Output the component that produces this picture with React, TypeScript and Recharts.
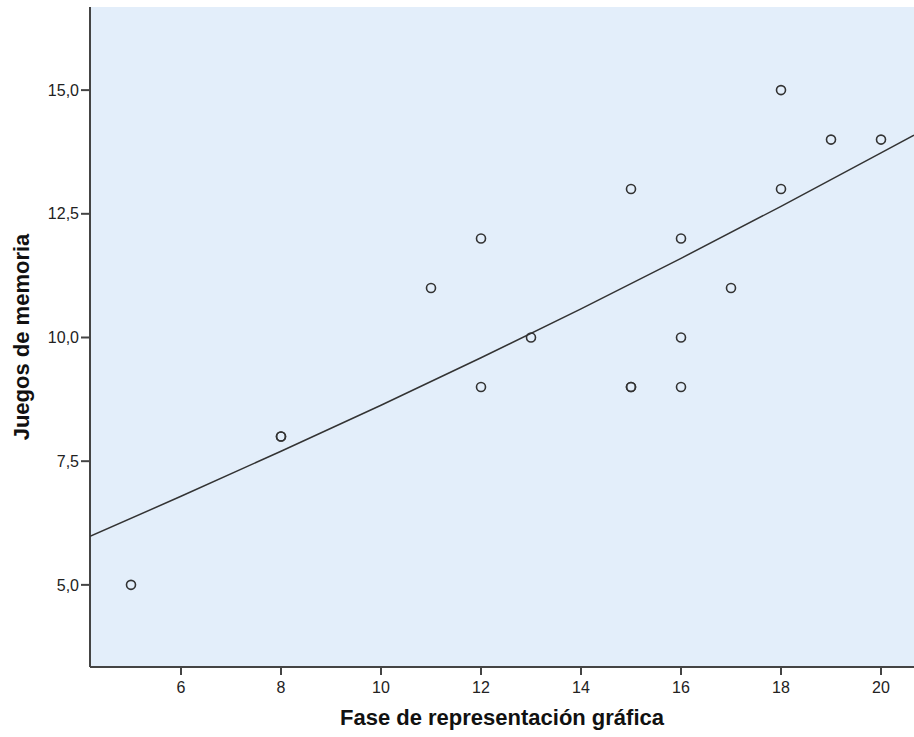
import React from 'react';
import {
  ScatterChart,
  Scatter,
  XAxis,
  YAxis,
  ReferenceArea,
} from 'recharts';

// observed cases: x = Fase de representación gráfica, y = Juegos de memoria
const faseValues = [5, 8, 8, 11, 12, 12, 13, 15, 15, 15, 16, 16, 16, 17, 18, 18, 19, 20];
const juegosValues = [5, 8, 8, 11, 12, 9, 10, 13, 9, 9, 12, 10, 9, 11, 15, 13, 14, 14];

// fitted curve
const fitX = [4.18, 6, 8, 10, 12, 14, 16, 18, 20, 20.66];
const fitY = [5.98, 6.79, 7.7, 8.63, 9.59, 10.58, 11.6, 12.65, 13.73, 14.09];

const xTicks = [6, 8, 10, 12, 14, 16, 18, 20];
const yTicks = [5, 7.5, 10, 12.5, 15];

const xDomain: [number, number] = [4.18, 20.66];
const yDomain: [number, number] = [3.34, 16.68];

const points = faseValues.map((x, i) => ({ x, y: juegosValues[i] }));
const fitLine = fitX.map((x, i) => ({ x, y: fitY[i] }));

const AXIS = '#444';
const FONT = '"Liberation Sans", Arial, sans-serif';

const Ring = (props: any) => (
  <circle cx={props.cx} cy={props.cy} r={4.5} fill="none" stroke="#333" strokeWidth={1.6} />
);

const NoDot = () => <g />;

export default function App() {
  return (
    <div style={{ position: 'absolute', left: 0, top: 0, width: 914, height: 737, background: '#fff' }}>
      <ScatterChart
        width={914}
        height={737}
        margin={{ top: 7, right: 0, bottom: 0, left: 0 }}
        style={{ fontFamily: FONT }}
      >
        <ReferenceArea
          x1={xDomain[0]}
          x2={xDomain[1]}
          y1={yDomain[0]}
          y2={yDomain[1]}
          fill="#E3EEFA"
          fillOpacity={1}
          stroke="none"
        />
        <XAxis
          type="number"
          dataKey="x"
          domain={xDomain}
          ticks={xTicks}
          allowDataOverflow
          height={70}
          axisLine={{ stroke: AXIS, strokeWidth: 2 }}
          tickLine={{ stroke: AXIS, strokeWidth: 2 }}
          tickSize={8}
          tickMargin={7}
          tick={{ fill: '#222', fontSize: 16, fontFamily: FONT }}
          label={{
            value: 'Fase de representación gráfica',
            position: 'insideBottom',
            offset: 12,
            style: { fill: '#111', fontSize: 22, fontWeight: 'bold', fontFamily: FONT },
          }}
        />
        <XAxis
          xAxisId="top"
          orientation="top"
          type="number"
          dataKey="x"
          domain={xDomain}
          allowDataOverflow
          height={0}
          axisLine={{ stroke: AXIS, strokeWidth: 2 }}
          tickLine={false}
          tick={false}
        />
        <YAxis
          type="number"
          dataKey="y"
          domain={yDomain}
          ticks={yTicks}
          allowDataOverflow
          width={90}
          axisLine={{ stroke: AXIS, strokeWidth: 2 }}
          tickLine={{ stroke: AXIS, strokeWidth: 2 }}
          tickSize={9}
          tickMargin={2}
          tickFormatter={(v: number) => v.toFixed(1).replace('.', ',')}
          tick={{ fill: '#222', fontSize: 16, fontFamily: FONT }}
          label={{
            value: 'Juegos de memoria',
            angle: -90,
            position: 'insideLeft',
            offset: 21,
            style: { textAnchor: 'middle', fill: '#111', fontSize: 22, fontWeight: 'bold', fontFamily: FONT },
          }}
        />
        <Scatter
          data={fitLine}
          line={{ stroke: '#333', strokeWidth: 1.5 }}
          shape={NoDot}
          isAnimationActive={false}
        />
        <Scatter data={points} shape={Ring} isAnimationActive={false} />
      </ScatterChart>
    </div>
  );
}
